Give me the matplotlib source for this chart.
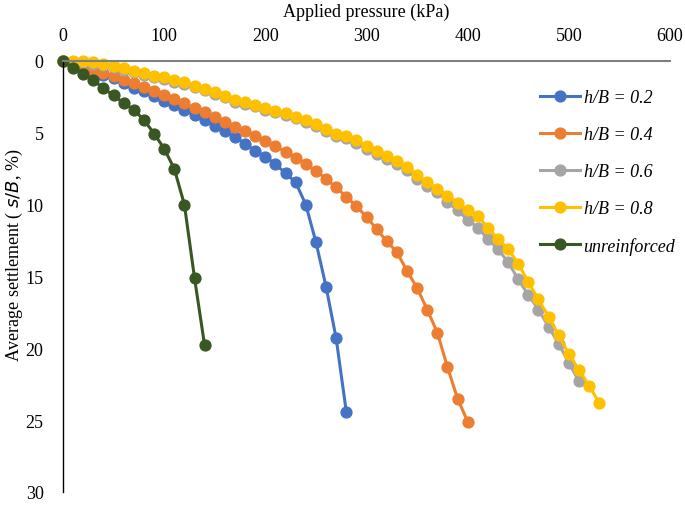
import matplotlib
matplotlib.use('Agg')
import matplotlib.pyplot as plt

# pressure (kPa) and settlement s/B (%)
p_02 = [0, 10, 20, 30, 40, 50, 60, 70, 80, 90, 100, 110, 120, 130, 140,
        150, 160, 170, 180, 190, 200, 210, 220, 230, 240, 250, 260, 270, 280]
s_02 = [0, 0.3, 0.6, 0.85, 1.0, 1.2, 1.5, 1.85, 2.1, 2.42, 2.76, 3.05, 3.4,
        3.75, 4.1, 4.5, 4.9, 5.3, 5.75, 6.25, 6.65, 7.2, 7.8, 8.45, 10.0,
        12.6, 15.7, 19.3, 24.4]

p_04 = [0, 10, 20, 30, 40, 50, 60, 70, 80, 90, 100, 110, 120, 130, 140,
        150, 160, 170, 180, 190, 200, 210, 220, 230, 240, 250, 260, 270, 280,
        290, 300, 310, 320, 330, 340, 350, 360, 370, 380, 390, 400]
s_04 = [0, 0.2, 0.45, 0.68, 0.84, 1.07, 1.3, 1.56, 1.79, 2.12, 2.37, 2.65,
        2.95, 3.28, 3.58, 3.88, 4.23, 4.56, 4.86, 5.2, 5.55, 5.95, 6.32, 6.72,
        7.2, 7.65, 8.2, 8.8, 9.45, 10.1, 10.85, 11.7, 12.55, 13.3, 14.6, 15.8,
        17.3, 18.9, 21.3, 23.5, 25.1]

p_06 = [0, 10, 20, 30, 40, 50, 60, 70, 80, 90, 100, 110, 120, 130, 140,
        150, 160, 170, 180, 190, 200, 210, 220, 230, 240, 250, 260, 270, 280,
        290, 300, 310, 320, 330, 340, 350, 360, 370, 380, 390, 400, 410, 420,
        430, 440, 450, 460, 470, 480, 490, 500, 510]
s_06 = [0, 0.05, 0.1, 0.18, 0.28, 0.42, 0.6, 0.78, 0.95, 1.12, 1.25, 1.43,
        1.6, 1.82, 2.05, 2.3, 2.52, 2.82, 2.98, 3.15, 3.38, 3.58, 3.78, 4.0,
        4.25, 4.5, 4.9, 5.25, 5.38, 5.7, 6.1, 6.45, 6.82, 7.15, 7.6, 8.2,
        8.7, 9.1, 9.8, 10.4, 11.05, 11.6, 12.4, 13.1, 14.0, 15.2, 16.3, 17.3,
        18.5, 19.7, 21.0, 22.3]

p_08 = [0, 10, 20, 30, 40, 50, 60, 70, 80, 90, 100, 110, 120, 130, 140,
        150, 160, 170, 180, 190, 200, 210, 220, 230, 240, 250, 260, 270, 280,
        290, 300, 310, 320, 330, 340, 350, 360, 370, 380, 390, 400, 410, 420,
        430, 440, 450, 460, 470, 480, 490, 500, 510, 520, 530]
s_08 = [0, 0, 0.02, 0.1, 0.2, 0.33, 0.5, 0.68, 0.86, 1.02, 1.14, 1.33, 1.48,
        1.72, 1.95, 2.19, 2.41, 2.72, 2.88, 3.04, 3.27, 3.46, 3.65, 3.88, 4.12,
        4.38, 4.75, 5.1, 5.22, 5.52, 5.92, 6.25, 6.62, 6.95, 7.38, 7.96, 8.45,
        8.9, 9.38, 9.86, 10.37, 10.8, 11.6, 12.4, 13.1, 14.1, 15.4, 16.6, 17.8,
        19.1, 20.4, 21.5, 22.6, 23.8]

p_unr = [0, 10, 20, 30, 40, 50, 60, 70, 80, 90, 100, 110, 120, 130, 140]
s_unr = [0, 0.46, 0.88, 1.33, 1.9, 2.4, 2.93, 3.4, 4.1, 5.05, 6.1, 7.5, 10.0,
         15.1, 19.8]

series = [
    (p_02, s_02, '#4472C4', 'h/B = 0.2'),
    (p_04, s_04, '#ED7D31', 'h/B = 0.4'),
    (p_06, s_06, '#A5A5A5', 'h/B = 0.6'),
    (p_08, s_08, '#FFC000', 'h/B = 0.8'),
    (p_unr, s_unr, '#385723', 'unreinforced'),
]

plt.rcParams['font.family'] = ['Liberation Serif', 'DejaVu Serif']

fig = plt.figure(figsize=(6.85, 5.06), dpi=100)
ax = fig.add_axes([63 / 685, 1 - 493 / 506, (670 - 63) / 685, (493 - 62) / 506])

handles = []
for p, s, color, label in series:
    line, = ax.plot(p, s, color=color, lw=2.2, marker='o', ms=7.8,
                    mec=color, mfc=color, label=label, clip_on=False)
    handles.append(line)

ax.set_xlim(0, 600)
ax.set_ylim(30, 0)
ax.set_xticks(range(0, 601, 100))
ax.set_yticks(range(0, 31, 5))
ax.xaxis.tick_top()
ax.xaxis.set_label_position('top')
ax.tick_params(axis='both', length=0, labelsize=13)
ax.tick_params(axis='x', pad=12)
ax.tick_params(axis='y', pad=14)

for side in ('right', 'bottom'):
    ax.spines[side].set_visible(False)
ax.spines['top'].set_color('#7F7F7F')
ax.spines['top'].set_linewidth(1.5)
ax.spines['left'].set_color('black')
ax.spines['left'].set_linewidth(1.0)

ax.set_xlabel('Applied pressure (kPa)', fontsize=13, labelpad=8)
fig.text(14 / 685, 1 - 255 / 506, 'Average settlement ( $\\it{s/B}$, %)',
         rotation=90, ha='center', va='center', fontsize=13)

leg = ax.legend(handles=handles, loc='upper left',
                bbox_to_anchor=(524 / 685, 1 - 74 / 506),
                bbox_transform=fig.transFigure, frameon=False,
                prop={'style': 'italic', 'size': 13},
                handlelength=2.2, handletextpad=0.2, labelspacing=1.1)

fig.savefig('out.png', dpi=100)
